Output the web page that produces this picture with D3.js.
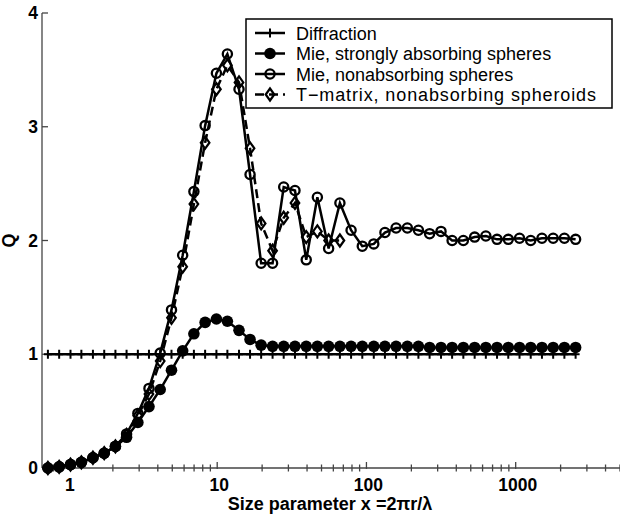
<!DOCTYPE html>
<meta charset="utf-8">
<script src="https://cdn.jsdelivr.net/npm/d3@7/dist/d3.min.js"></script>
<style>
body { margin: 0; background: #fff; }
text { font-family: "Liberation Sans", Arial, sans-serif; }
.tick-label { font-size: 17.5px; font-weight: bold; }
.axis-title { font-size: 18px; font-weight: bold; }
.legend text { font-size: 18px; }
</style>
<body>
<script>
// size parameter grid (shared by all series)
var sizeParam = [0.734, 0.873, 1.04, 1.23, 1.47, 1.75, 2.08, 2.47, 2.94, 3.49,
  4.15, 4.94, 5.87, 6.98, 8.30, 9.88, 11.7, 14.0, 16.6, 19.7,
  23.5, 27.9, 33.2, 39.5, 46.9, 55.8, 66.4, 78.9, 93.8, 112,
  133, 158, 188, 223, 265, 316, 375, 446, 531, 631,
  750, 892, 1061, 1261, 1500, 1783, 2120, 2521]

var diffraction = [1, 1, 1, 1, 1, 1, 1, 1, 1, 1,
  1, 1, 1, 1, 1, 1, 1, 1, 1, 1,
  1, 1, 1, 1, 1, 1, 1, 1, 1, 1,
  1, 1, 1, 1, 1, 1, 1, 1, 1, 1,
  1, 1, 1, 1, 1, 1, 1, 1]

var mieAbsorbing = [0.00, 0.01, 0.03, 0.05, 0.09, 0.13, 0.19, 0.27, 0.40, 0.54,
  0.69, 0.86, 1.03, 1.18, 1.28, 1.31, 1.29, 1.21, 1.13, 1.08,
  1.07, 1.07, 1.07, 1.07, 1.07, 1.07, 1.07, 1.07, 1.07, 1.07,
  1.07, 1.07, 1.07, 1.07, 1.06, 1.06, 1.06, 1.06, 1.06, 1.06,
  1.06, 1.06, 1.06, 1.06, 1.06, 1.06, 1.06, 1.06]

var mieNonabsorbing = [0.00, 0.01, 0.03, 0.05, 0.09, 0.13, 0.19, 0.30, 0.48, 0.70,
  1.01, 1.39, 1.87, 2.43, 3.01, 3.47, 3.64, 3.33, 2.58, 1.80,
  1.80, 2.47, 2.44, 1.83, 2.38, 1.93, 2.33, 2.09, 1.95, 1.97,
  2.07, 2.11, 2.11, 2.09, 2.06, 2.08, 2.00, 2.00, 2.03, 2.04,
  2.01, 2.01, 2.02, 2.00, 2.02, 2.02, 2.02, 2.01]

var tMatrix = [0.00, 0.01, 0.03, 0.05, 0.09, 0.13, 0.19, 0.29, 0.46, 0.65,
  0.94, 1.32, 1.77, 2.32, 2.86, 3.33, 3.54, 3.39, 2.81, 2.15,
  1.91, 2.20, 2.33, 2.03, 2.08, 2.00, 2.00]

var xTicks = [1, 10, 100, 1000]
var yTicks = [0, 1, 2, 3, 4]
var legendLabels = ["Diffraction", "Mie, strongly absorbing spheres",
  "Mie, nonabsorbing spheres", "T\u2212matrix, nonabsorbing spheroids"]

var W = 620, H = 515
var plotL = 42, plotR = 620, plotT = 13, plotB = 468

var svg = d3.select("body").append("svg").attr("width", W).attr("height", H)

var x = d3.scaleLog().domain([0.67, 5000]).range([plotL, plotR])
var y = d3.scaleLinear().domain([0, 4]).range([plotB, plotT])

// axes
var axisColor = "#444"
svg.append("line").attr("x1", plotL).attr("x2", plotL).attr("y1", plotT).attr("y2", plotB)
  .attr("stroke", axisColor).attr("stroke-width", 1.3)
svg.append("line").attr("x1", plotL).attr("x2", plotR).attr("y1", plotB).attr("y2", plotB)
  .attr("stroke", axisColor).attr("stroke-width", 1.3)

svg.selectAll(".ytick").data(yTicks).enter().append("line")
  .attr("x1", plotL).attr("x2", plotL + 6).attr("y1", d => y(d)).attr("y2", d => y(d))
  .attr("stroke", axisColor).attr("stroke-width", 1.3)
svg.selectAll(".ylab").data(yTicks).enter().append("text").attr("class", "tick-label")
  .attr("x", 38).attr("y", d => y(d) + 6).attr("text-anchor", "end").text(d => d)

var minor = []
xTicks.concat([10000]).forEach(function(t) {
  for (var k = 2; k <= 9; k++) {
    var v = t / 10 * k
    if (v > 0.67 && v <= 5000) minor.push(v)
  }
})
minor = minor.filter(v => xTicks.indexOf(v) < 0)
svg.selectAll(".xminor").data(minor).enter().append("line")
  .attr("x1", d => x(d)).attr("x2", d => x(d)).attr("y1", plotB - 3.5).attr("y2", plotB + 3.5)
  .attr("stroke", axisColor).attr("stroke-width", 1.3)
svg.selectAll(".xmajor").data(xTicks).enter().append("line")
  .attr("x1", d => x(d)).attr("x2", d => x(d)).attr("y1", plotB - 6).attr("y2", plotB + 1)
  .attr("stroke", axisColor).attr("stroke-width", 1.3)
svg.selectAll(".xlab").data(xTicks).enter().append("text").attr("class", "tick-label")
  .attr("x", d => x(d) + 2).attr("y", 491).attr("text-anchor", "middle").text(d => d)

svg.append("text").attr("class", "axis-title").attr("x", 330).attr("y", 510)
  .attr("text-anchor", "middle").text("Size parameter x =2\u03c0r/\u03bb")
svg.append("text").attr("class", "axis-title")
  .attr("transform", "translate(15," + ((plotT + plotB) / 2) + ") rotate(-90)")
  .attr("text-anchor", "middle").text("Q")

// series
var line = d3.line().x(d => x(d[0])).y(d => y(d[1]))
function pairs(vals) { return vals.map((v, i) => [sizeParam[i], v]) }

function drawMarker(g, type, cx, cy) {
  if (type == "plus") {
    g.append("path").attr("d", "M" + (cx - 4) + "," + cy + "h8M" + cx + "," + (cy - 4.5) + "v9")
      .attr("stroke", "#000").attr("stroke-width", 2).attr("fill", "none")
  } else if (type == "dot") {
    g.append("circle").attr("cx", cx).attr("cy", cy).attr("r", 5.8).attr("fill", "#000")
  } else if (type == "circle") {
    g.append("circle").attr("cx", cx).attr("cy", cy).attr("r", 4.6)
      .attr("fill", "none").attr("stroke", "#000").attr("stroke-width", 2.3)
  } else {
    g.append("path").attr("d", "M" + cx + "," + (cy - 6) + "l4.3,6l-4.3,6l-4.3,-6z")
      .attr("fill", "none").attr("stroke", "#000").attr("stroke-width", 2.2)
  }
}

var series = [
  { vals: diffraction, marker: "plus", dash: null },
  { vals: mieAbsorbing, marker: "dot", dash: null },
  { vals: mieNonabsorbing, marker: "circle", dash: null },
  { vals: tMatrix, marker: "diamond", dash: "9,5" }
]

series.forEach(function(s) {
  var g = svg.append("g")
  var data = pairs(s.vals)
  g.append("path").attr("d", line(data)).attr("fill", "none").attr("stroke", "#000")
    .attr("stroke-width", 2.5).attr("stroke-dasharray", s.dash)
  data.forEach(d => drawMarker(g, s.marker, x(d[0]), y(d[1])))
})

// legend
var lg = svg.append("g").attr("class", "legend")
lg.append("rect").attr("x", 246).attr("y", 19).attr("width", 366).attr("height", 89)
  .attr("fill", "#fff").attr("stroke", "#000").attr("stroke-width", 1.5)
legendLabels.forEach(function(lab, i) {
  var ly = 33 + i * 20.5
  lg.append("line").attr("x1", 255).attr("x2", 285).attr("y1", ly).attr("y2", ly)
    .attr("stroke", "#000").attr("stroke-width", 2.5).attr("stroke-dasharray", series[i].dash)
  drawMarker(lg, series[i].marker, 270, ly)
  var t = lg.append("text").attr("x", 296).attr("y", ly + 6.5).text(lab)
  if (i == 3) t.attr("textLength", 300).attr("lengthAdjust", "spacing")
})
</script>
</body>
</html>
